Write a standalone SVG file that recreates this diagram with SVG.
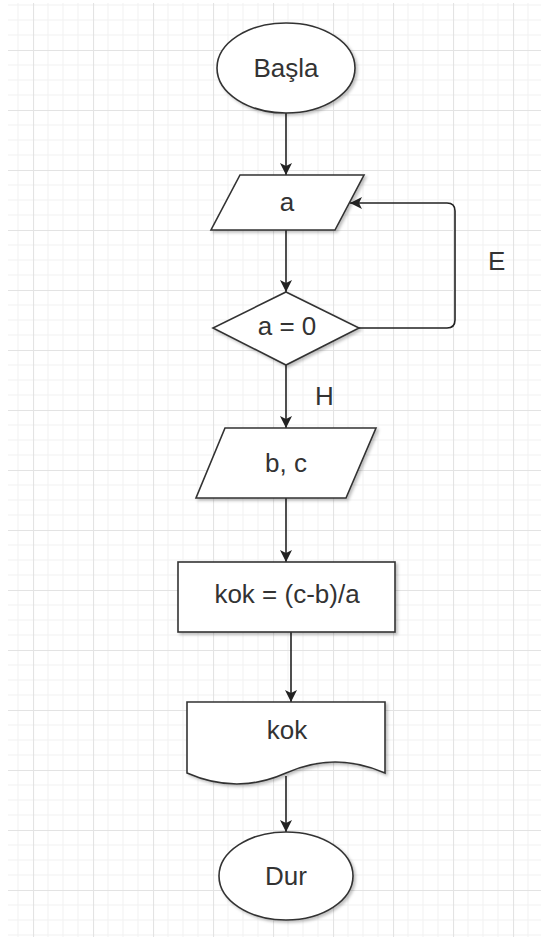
<svg xmlns="http://www.w3.org/2000/svg" width="541" height="937" viewBox="0 0 541 937">
<defs>
<pattern id="grid" patternUnits="userSpaceOnUse" x="33" y="50" width="60" height="60">
<path d="M15,0V60M30,0V60M45,0V60M0,15H60M0,30H60M0,45H60" stroke="#f1f1f1" stroke-width="1" fill="none"/>
<path d="M0.5,0V60M0,0.5H60" stroke="#e3e3e3" stroke-width="1.2" fill="none"/>
</pattern>
<filter id="sh" x="-10%" y="-10%" width="130%" height="130%">
<feDropShadow dx="2" dy="2" stdDeviation="1.5" flood-color="#000" flood-opacity="0.25"/>
</filter>
<marker id="arr" markerUnits="userSpaceOnUse" markerWidth="14" markerHeight="12" refX="12" refY="6" orient="auto">
<path d="M0,0 L12,6 L0,12 L3,6 z" fill="#222"/>
</marker>
<style>
.s{fill:#fff;stroke:#333;stroke-width:1.6;filter:url(#sh)}
.t{font-family:"Liberation Sans",Arial,sans-serif;font-size:26px;fill:#333;text-anchor:middle}
.l{font-family:"Liberation Sans",Arial,sans-serif;font-size:26px;fill:#333}
.e{fill:none;stroke:#222;stroke-width:1.6;marker-end:url(#arr)}
</style>
</defs>
<rect width="541" height="937" fill="#fff"/>
<rect x="8" y="3" width="533" height="934" fill="url(#grid)"/>
<g id="connectors">
<path class="e" d="M286,113V175"/>
<path class="e" d="M286,230V292"/>
<path class="e" d="M359,328H447Q455,328 455,320V211Q455,203 447,203H350"/>
<path class="e" d="M286,365V428"/>
<path class="e" d="M286,498V562"/>
<path class="e" d="M291,632V702"/>
<path class="e" d="M286,776V832"/>
</g>
<g id="n_basla">
<ellipse class="s" cx="286" cy="68" rx="69" ry="45"/>
<text class="t" x="286" y="77">Başla</text>
</g>
<g id="n_a">
<polygon class="s" points="240,175 364,175 335,230 211,230"/>
<text class="t" x="287" y="211">a</text>
</g>
<g id="n_cond">
<polygon class="s" points="286,292 359,328 286,365 213,328"/>
<text class="t" x="287" y="335">a = 0</text>
</g>
<g id="lbl_E"><text class="l" x="488" y="270">E</text></g>
<g id="lbl_H"><text class="l" x="315" y="405">H</text></g>
<g id="n_bc">
<polygon class="s" points="225,428 376,428 346,498 196,498"/>
<text class="t" x="286" y="472">b, c</text>
</g>
<g id="n_kok_calc">
<rect class="s" x="178" y="562" width="217" height="70"/>
<text class="t" x="287" y="603">kok = (c-b)/a</text>
</g>
<g id="n_kok_out">
<path class="s" d="M187,702H385V773Q335,751 286,773Q237,795 187,773Z"/>
<text class="t" x="287" y="739">kok</text>
</g>
<g id="n_dur">
<ellipse class="s" cx="286" cy="876" rx="67" ry="44"/>
<text class="t" x="286" y="885">Dur</text>
</g>
</svg>
